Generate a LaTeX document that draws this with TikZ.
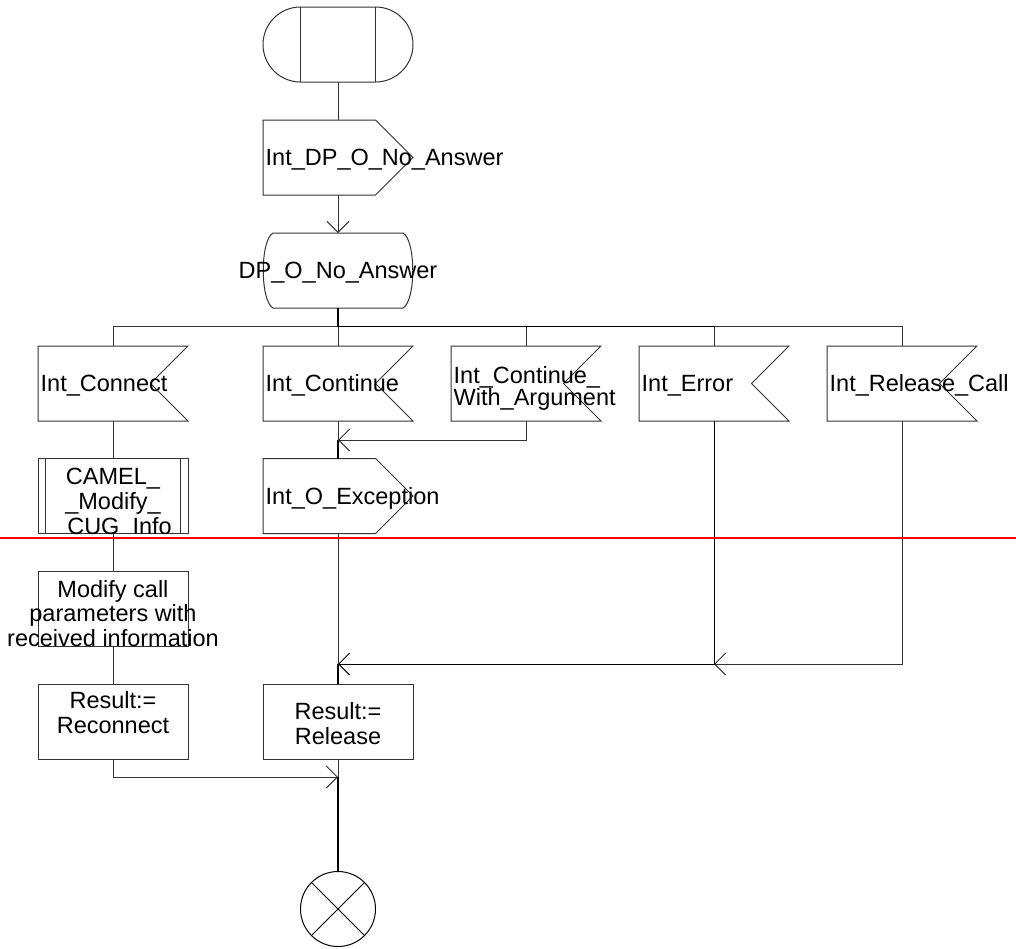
\documentclass[tikz,border=0pt]{standalone}
\usepackage{fontspec}
\setmainfont{Liberation Sans}
\usetikzlibrary{calc,arrows.meta}
\begin{document}
\begin{tikzpicture}[x=1pt, y=-1pt,
  line/.style={draw=black!80, line width=1pt},
  heavy/.style={draw=black, line width=1.8pt},
  flow/.style={line, -{Straight Barb[length=11pt, width=22pt]}},
  shapebox/.style={minimum width=150pt, minimum height=75pt, inner sep=0pt, outer sep=0pt},
  boxed/.style={shapebox, draw=black!80, line width=1pt},
  txt/.style={inner sep=0pt, font=\fontsize{23.5}{25}\selectfont},
]
\useasboundingbox (0,0) rectangle (1016,948);

% ---- symbol frames ----
\node[boxed, rounded corners=37.5pt] (start) at (338,44.5) {};
\node[shapebox] (sig1)  at (338,157.5) {};
\node[shapebox] (state) at (338,270.5) {};
\node[shapebox] (in1) at (113,383.5) {};
\node[shapebox] (in2) at (338,383.5) {};
\node[shapebox] (in3) at (526,383.5) {};
\node[shapebox] (in4) at (714,383.5) {};
\node[shapebox] (in5) at (902,383.5) {};
\node[boxed] (proc)  at (113,496) {};
\node[shapebox] (out1) at (338,496) {};
\node[boxed] (task1) at (113,608.5) {};
\node[boxed] (task2) at (113,721.5) {};
\node[boxed] (task3) at (338,721.5) {};
\node[circle, draw=black, line width=1pt, minimum size=75pt, inner sep=0pt] (stop) at (338,909) {};

% ---- outlines ----
% start: stadium with two inner bars
\draw[line] ($(start.north west)+(37.5,0)$) -- ($(start.south west)+(37.5,0)$);
\draw[line] ($(start.north east)+(-37.5,0)$) -- ($(start.south east)+(-37.5,0)$);
% output signals
\foreach \n in {sig1,out1}
  \draw[line] (\n.north west) -- ($(\n.north east)+(-37.5,0)$) -- (\n.east)
    -- ($(\n.south east)+(-37.5,0)$) -- (\n.south west) -- cycle;
% state
\draw[line] ($(state.center)+(-65,-37.5)$) -- ($(state.center)+(65,-37.5)$)
  .. controls ($(state.center)+(78,-30.5)$) and ($(state.center)+(78,30.5)$) .. ($(state.center)+(65,37.5)$)
  -- ($(state.center)+(-65,37.5)$)
  .. controls ($(state.center)+(-78,30.5)$) and ($(state.center)+(-78,-30.5)$) .. cycle;
% input signals
\foreach \n in {in1,in2,in3,in4,in5}
  \draw[line] (\n.north west) -- (\n.north east) -- ($(\n.east)+(-37.5,0)$)
    -- (\n.south east) -- (\n.south west) -- cycle;
% procedure call bars
\draw[line] ($(proc.north west)+(7.5,0)$) -- ($(proc.south west)+(7.5,0)$);
\draw[line] ($(proc.north east)+(-7.5,0)$) -- ($(proc.south east)+(-7.5,0)$);
% stop cross
\draw[line, draw=black] (stop.north west) -- (stop.south east);
\draw[line, draw=black] (stop.north east) -- (stop.south west);

% ---- junction points ----
\coordinate (fork) at (338,326.5);
\coordinate (m1)   at (338,440);
\coordinate (m2)   at (338,664);
\coordinate (m2e)  at (714,664);
\coordinate (join) at (338,777);

% ---- connectors ----
\draw[line] (start.south) -- (sig1.north);
\draw[flow] (sig1.south) -- (state.north);
\draw[line] (fork) -| (in1.north);
\draw[line] (fork) -- (in2.north);
\draw[line] (fork) -| (in3.north);
\draw[line] (fork) -| (in4.north);
\draw[line] (fork) -| (in5.north);
\draw[heavy] (state.south) -- (fork) -- (fork -| in4.north);

\draw[line] (in1.south) -- (proc.north);
\draw[line] (proc.south) -- (task1.north);
\draw[line] (task1.south) -- (task2.north);
\draw[flow] (task2.south) |- (join);

\draw[line] (in2.south) -- (m1);
\draw[flow] (in3.south) |- (m1);
\draw[heavy] (m1) -- (out1.north);
\draw[line] (out1.south) -- (m2);
\draw[flow] (in5.south) |- (m2e);
\draw[flow, draw=black] (in4.south) |- (m2);
\draw[heavy] (m2) -- (task3.north);
\draw[line] (task3.south) -- (join);
\draw[heavy] (join) -- (stop.north);

% ---- labels (multi-line nodes sit on the baseline of their last line) ----
\node[txt, anchor=base west] (l-sig1) at ($(sig1.west)+(2.5,8.4)$) {Int\_DP\_O\_No\_Answer};
\node[txt, anchor=base] (l-state) at ($(state.center)+(0,8.4)$) {DP\_O\_No\_Answer};
\node[txt, anchor=base west] (l-in1) at ($(in1.west)+(2.5,8.4)$) {Int\_Connect};
\node[txt, anchor=base west] (l-in2) at ($(in2.west)+(2.5,8.4)$) {Int\_Continue};
\node[txt, anchor=base west, align=left, font=\fontsize{23.5}{22.4}\selectfont] (l-in3)
  at (453.5,405.7) {Int\_Continue\_\\With\_Argument};
\node[txt, anchor=base west] (l-in4) at ($(in4.west)+(2.5,8.4)$) {Int\_Error};
\node[txt, anchor=base west] (l-in5) at ($(in5.west)+(2.5,8.4)$) {Int\_Release\_Call};
\node[txt, anchor=base west] (l-out1) at ($(out1.west)+(2.5,8.4)$) {Int\_O\_Exception};
\node[txt, anchor=base, align=center] (l-proc) at (113,534.3) {CAMEL\_\\\_Modify\_\\\_CUG\_Info};
\node[txt, anchor=base, align=center, font=\fontsize{23.5}{24.4}\selectfont] (l-task1)
  at (113,646.1) {Modify call\\parameters with\\received information};
\node[txt, anchor=base, align=center] (l-task2) at (113,733.5) {Result:=\\Reconnect};
\node[txt, anchor=base, align=center] (l-task3) at (338,744) {Result:=\\Release};

% ---- marker line ----
\draw[red, line width=1.8pt] (0,538) -- (1016,538);
\end{tikzpicture}
\end{document}
